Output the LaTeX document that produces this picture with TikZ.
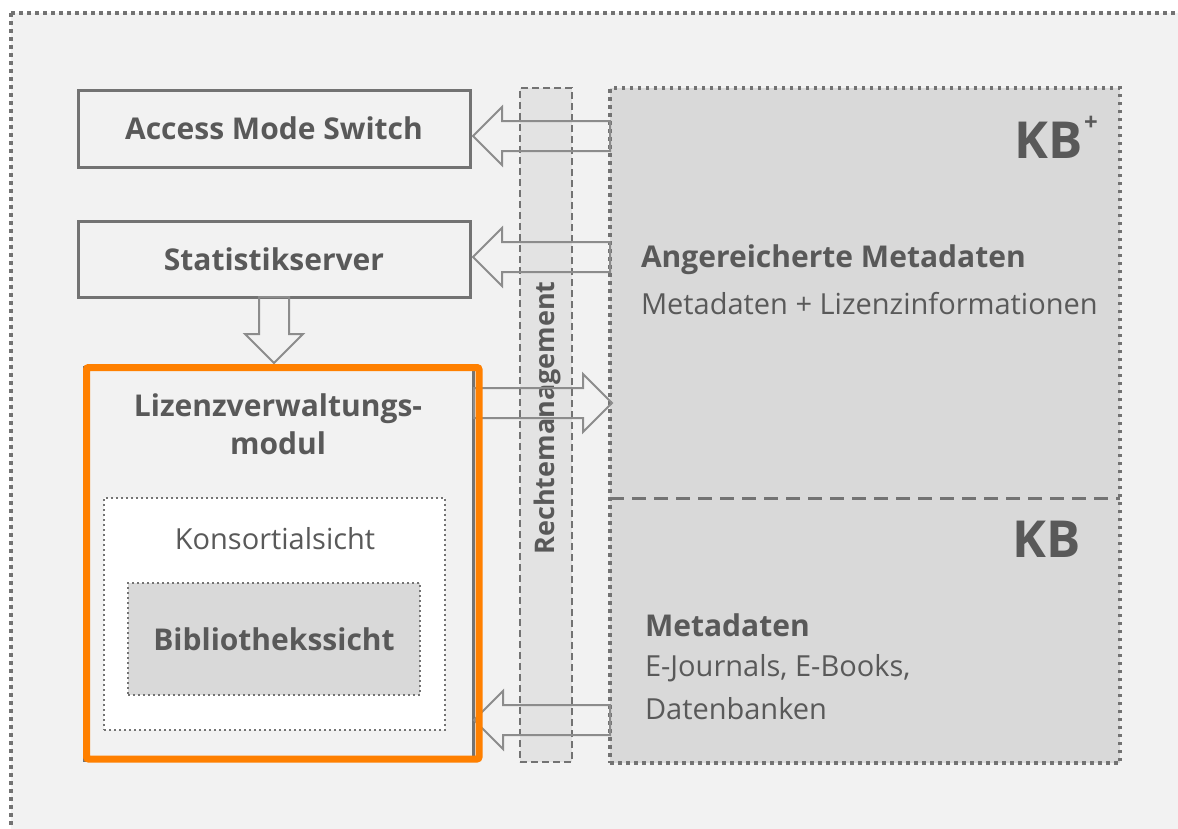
\documentclass[tikz,border=0pt]{standalone}
\usepackage{fontspec}
\setmainfont{Open Sans}
\usetikzlibrary{calc}
\definecolor{bg}{HTML}{F2F2F2}
\definecolor{txt}{HTML}{595959}
\definecolor{bord}{HTML}{737373}
\definecolor{kbfill}{HTML}{D9D9D9}
\definecolor{barfill}{HTML}{E3E3E3}
\definecolor{orng}{HTML}{FF8000}
\definecolor{arr}{HTML}{8C8C8C}
\newcommand\hollowarrow[3]{% #1 tip, #2 length, #3 rotation
  \draw[arrowline, shift={(#1)}, rotate=#3] (0,0) -- (29,29) -- (29,15) -- (#2,15) -- (#2,-15) -- (29,-15) -- (29,-29) -- cycle;}
\begin{document}
\begin{tikzpicture}[x=1pt,y=-1pt,
  solidbox/.style={draw=bord, line width=3pt, fill=bg, minimum width=#1, inner sep=0pt},
  bigbold/.style={font=\fontsize{30}{38}\selectfont\bfseries, text=txt},
  bigreg/.style={font=\fontsize{29}{38}\selectfont, text=txt},
  dotbox/.style={draw=bord, line width=2pt, dash pattern=on 2pt off 3pt},
  arrowline/.style={draw=arr, line width=2pt, line join=miter},
  plain/.style={inner sep=0pt, outer sep=0pt}]
\useasboundingbox (0,0) rectangle (1178,828);
\clip (0,0) rectangle (1178,828);
\fill[white] (0,0) rectangle (1178,828);
% outer frame
\draw[fill=bg, draw=bord, line width=4pt, dash pattern=on 4pt off 4pt] (11,13) rectangle (1200,850);

% KB area
\node[plain, draw=bord, fill=kbfill, line width=3.5pt, dash pattern=on 3.5pt off 4.5pt,
      minimum width=510pt, minimum height=675pt] (kb) at (865,425.5) {};
\draw[draw=bord, line width=3pt, dash pattern=on 14pt off 8pt] (kb.west |- 0,498) coordinate (kbl) -- (kb.east |- 0,498) coordinate (kbr);

% Rechtemanagement bar
\node[plain, draw=bord, fill=barfill, line width=2.5pt, dash pattern=on 7pt off 4pt,
      minimum width=52pt, minimum height=674pt] (bar) at (546,425) {};
\node[text=txt, rotate=90, font=\fontsize{27}{30}\selectfont\bfseries] (rm) at (547,418) {Rechtemanagement};

% left boxes
\node[solidbox=392pt, minimum height=77pt] (ams) at (274,128.5) {};
\node[bigbold] (amst) at (ams.center) {Access Mode Switch};
\node[solidbox=392pt, minimum height=76pt] (stat) at (274,259) {};
\node[bigbold] (statt) at (stat.center) {Statistikserver};

\node[solidbox=389pt, minimum height=393pt] (lv) at (278.5,563.5) {};
\node[bigbold, align=center] (lvt) at (278,424) {Lizenzverwaltungs-\\modul};
\node[plain, dotbox, fill=white, minimum width=341pt, minimum height=232pt] (kons) at (274.5,614) {};
\node[bigreg] (konst) at (275,539) {Konsortialsicht};
\node[plain, dotbox, fill=kbfill, minimum width=292pt, minimum height=112pt] (bib) at (274,639) {};
\node[bigbold] (bibt) at (bib.center) {Bibliothekssicht};

% arrows
\coordinate (t1) at (473,136);
\coordinate (t2) at (473,257);
\coordinate (t3) at (274,363);
\coordinate (t4) at (612,403);
\coordinate (t5) at (474,720);
\hollowarrow{t1}{137}{0}
\hollowarrow{t2}{137}{0}
\hollowarrow{t3}{66}{90}
\hollowarrow{t4}{138}{180}
\hollowarrow{t5}{136}{0}

% orange highlight
\draw[orng, line width=7pt, rounded corners=2pt] (86.5,367.5) rectangle (479,759);

% KB texts
\node[plain, anchor=east, font=\fontsize{51}{60}\selectfont\bfseries, text=txt] (kbp) at (1083,140) {KB};
\node[plain, anchor=west, font=\fontsize{24}{24}\selectfont\bfseries, text=txt] (plus) at (1084,123) {+};
\node[plain, anchor=east, font=\fontsize{51}{60}\selectfont\bfseries, text=txt] (kbb) at (1081,539) {KB};
\node[bigbold, plain, anchor=west] (am) at (641,260) {Angereicherte Metadaten};
\node[bigreg, plain, anchor=west] (ml) at (641,304) {Metadaten + Lizenzinformationen};
\node[bigbold, plain, anchor=west] (md) at (645,625) {Metadaten};
\node[bigreg, plain, anchor=west] (ej) at (645,668) {E-Journals, E-Books,};
\node[bigreg, plain, anchor=west] (db) at (645,709) {Datenbanken};
\end{tikzpicture}
\end{document}
